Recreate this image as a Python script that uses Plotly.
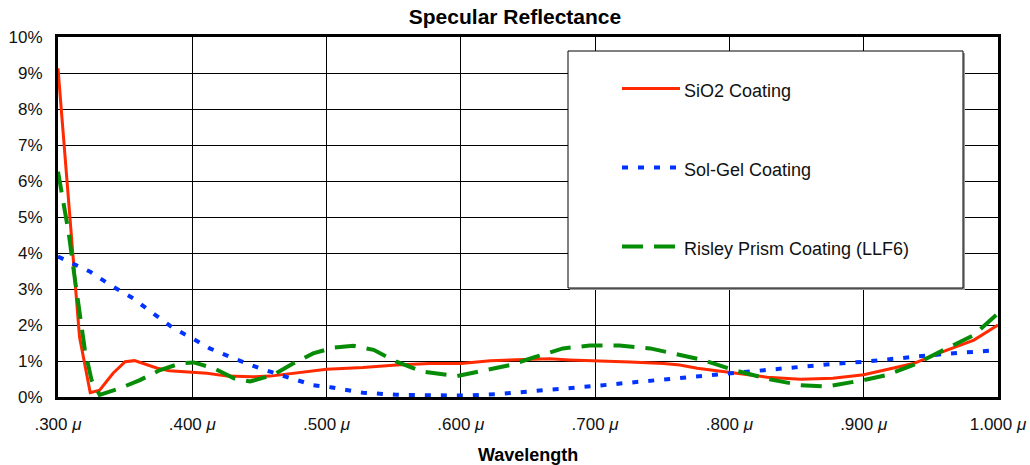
import plotly.graph_objects as go

# ---------------- data (wavelength in µm, reflectance in %) ----------------
sio2_wl = [0.300, 0.316, 0.324, 0.331, 0.341, 0.350, 0.357, 0.374, 0.383, 0.400,
           0.411, 0.426, 0.445, 0.458, 0.475, 0.490, 0.500, 0.527, 0.552, 0.577,
           0.600, 0.622, 0.642, 0.666, 0.681, 0.701, 0.726, 0.751, 0.763, 0.776,
           0.800, 0.828, 0.853, 0.877, 0.900, 0.917, 0.937, 0.957, 0.982, 1.000]
sio2_r = [9.13, 1.67, 0.12, 0.19, 0.66, 0.98, 1.01, 0.80, 0.73, 0.70,
          0.66, 0.58, 0.56, 0.58, 0.66, 0.72, 0.77, 0.82, 0.89, 0.93,
          0.93, 1.01, 1.03, 1.06, 1.03, 1.01, 0.97, 0.93, 0.89, 0.80,
          0.68, 0.55, 0.49, 0.52, 0.62, 0.77, 0.93, 1.23, 1.58, 2.00]

solgel_wl = [0.300, 0.324, 0.339, 0.356, 0.369, 0.386, 0.400, 0.413, 0.431, 0.450,
             0.470, 0.490, 0.503, 0.527, 0.552, 0.577, 0.602, 0.627, 0.651, 0.676,
             0.701, 0.726, 0.751, 0.776, 0.800, 0.828, 0.853, 0.877, 0.900, 0.922,
             0.947, 0.972, 1.000]
solgel_r = [3.90, 3.48, 3.11, 2.74, 2.37, 1.91, 1.63, 1.35, 1.07, 0.80,
            0.56, 0.33, 0.27, 0.12, 0.06, 0.04, 0.04, 0.08, 0.15, 0.22,
            0.31, 0.40, 0.49, 0.56, 0.65, 0.77, 0.86, 0.92, 0.98, 1.07,
            1.15, 1.23, 1.30]

risley_wl = [0.300, 0.308, 0.313, 0.320, 0.325, 0.331, 0.346, 0.361, 0.376, 0.391,
             0.401, 0.416, 0.431, 0.443, 0.460, 0.475, 0.490, 0.505, 0.520, 0.535,
             0.552, 0.572, 0.597, 0.614, 0.637, 0.656, 0.676, 0.696, 0.718, 0.741,
             0.763, 0.780, 0.803, 0.830, 0.853, 0.872, 0.900, 0.917, 0.937, 0.957,
             0.982, 1.000]
risley_r = [6.26, 4.55, 3.16, 1.31, 0.47, 0.06, 0.24, 0.47, 0.75, 0.93,
            0.96, 0.80, 0.52, 0.43, 0.61, 0.93, 1.21, 1.37, 1.42, 1.31,
            0.98, 0.70, 0.58, 0.70, 0.89, 1.12, 1.35, 1.43, 1.43, 1.35,
            1.17, 1.03, 0.75, 0.49, 0.33, 0.29, 0.47, 0.61, 0.89, 1.26,
            1.72, 2.32]

series_names = ["SiO2 Coating", "Sol-Gel Coating", "Risley Prism Coating (LLF6)"]
x_tickvals = [0.3, 0.4, 0.5, 0.6, 0.7, 0.8, 0.9, 1.0]
x_ticktext = [".300 <i>μ</i>", ".400 <i>μ</i>", ".500 <i>μ</i>", ".600 <i>μ</i>",
              ".700 <i>μ</i>", ".800 <i>μ</i>", ".900 <i>μ</i>", "1.000 <i>μ</i>"]
y_tickvals = list(range(0, 11))
y_ticktext = [f"{v}%" for v in y_tickvals]

# ---------------- styles ----------------
RED = "#FF2A00"
BLUE = "#0033FF"
GREEN = "#078C07"
FONT = "Liberation Sans, Arial, Helvetica, sans-serif"

W, H = 1030, 465
L, R, T, B = 58, 32, 37, 68
PW, PH = W - L - R, H - T - B

def px(xp):
    return (xp - L) / PW

def py(yp):
    return (H - B - yp) / PH

styles = [
    dict(color=RED, width=3, dash="solid"),
    dict(color=BLUE, width=4, dash="6px,10px"),
    dict(color=GREEN, width=4, dash="21px,11px"),
]

fig = go.Figure()
for name, xs, ys, st in zip(series_names,
                            [sio2_wl, solgel_wl, risley_wl],
                            [sio2_r, solgel_r, risley_r], styles):
    fig.add_trace(go.Scatter(x=xs, y=ys, mode="lines", name=name,
                             line=st, showlegend=False))

# ---------------- custom legend box ----------------
shapes = []
bx0, bx1, by0, by1 = 568, 963, 51, 288
shapes.append(dict(type="rect", xref="paper", yref="paper",
                   x0=px(bx0 + 2), x1=px(bx1 + 2), y0=py(by1 + 2), y1=py(by0 + 2),
                   line=dict(width=0), fillcolor="#9a9a9a", layer="above"))
shapes.append(dict(type="rect", xref="paper", yref="paper",
                   x0=px(bx0), x1=px(bx1), y0=py(by1), y1=py(by0),
                   line=dict(color="black", width=1), fillcolor="white", layer="above"))
annotations = []
line_ys = [88.5, 167.5, 246.5]
text_ys = [91, 170, 249]
for name, st, ly, ty in zip(series_names, styles, line_ys, text_ys):
    shapes.append(dict(type="line", xref="paper", yref="paper",
                       x0=px(622), x1=px(680), y0=py(ly), y1=py(ly),
                       line=dict(color=st["color"], width=st["width"], dash=st["dash"]),
                       layer="above"))
    annotations.append(dict(text=name, xref="paper", yref="paper",
                            x=px(682), y=py(ty), xanchor="left", yanchor="middle",
                            showarrow=False,
                            font=dict(family=FONT, size=18, color="#111")))

# x-axis title
annotations.append(dict(text="<b>Wavelength</b>", xref="paper", yref="paper",
                        x=0.5, y=py(455), xanchor="center", yanchor="middle",
                        showarrow=False,
                        font=dict(family=FONT, size=18, color="black")))

fig.update_layout(
    width=W, height=H,
    margin=dict(l=L, r=R, t=T, b=B, autoexpand=False),
    paper_bgcolor="white", plot_bgcolor="white",
    font=dict(family=FONT, size=17, color="#111"),
    title=dict(text="<b>Specular Reflectance</b>", x=0.5, xanchor="center",
               y=1 - 17 / H, yanchor="middle",
               font=dict(family=FONT, size=21, color="black")),
    showlegend=False,
    shapes=shapes,
    annotations=annotations,
    xaxis=dict(range=[0.3, 1.0], tickvals=x_tickvals, ticktext=x_ticktext,
               showgrid=True, gridcolor="black", gridwidth=1,
               showline=True, linecolor="black", linewidth=3, mirror=True,
               ticks="", ticklabelstandoff=10, zeroline=False, automargin=False,
               tickfont=dict(family=FONT, size=17, color="#111")),
    yaxis=dict(range=[0, 10], tickvals=y_tickvals, ticktext=y_ticktext,
               showgrid=True, gridcolor="black", gridwidth=1,
               showline=True, linecolor="black", linewidth=3, mirror=True,
               ticks="", ticklabelstandoff=9, zeroline=False, automargin=False,
               tickfont=dict(family=FONT, size=17, color="#111")),
)

fig.write_html("out.html")
